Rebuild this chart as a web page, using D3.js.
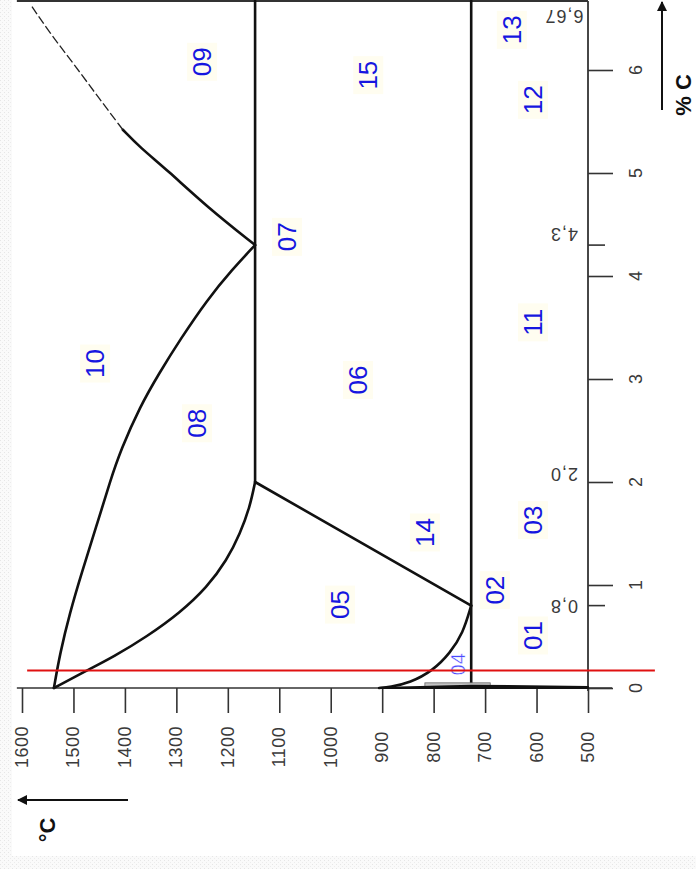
<!DOCTYPE html>
<html>
<head>
<meta charset="utf-8">
<script src="https://cdn.jsdelivr.net/npm/d3@7/dist/d3.min.js"></script>
<style>
  html, body { margin: 0; padding: 0; background: #fff; }
  svg { display: block; }
</style>
</head>
<body>
<svg id="chart" width="696" height="869"></svg>
<script>
// Iron–carbon equilibrium diagram, drawn turned a quarter turn:
// temperature runs right-to-left along the bottom, carbon content runs upward on the right.

// ---- axis ticks ----
const tempTicks = [1600, 1500, 1400, 1300, 1200, 1100, 1000, 900, 800, 700, 600, 500];
const carbonTicks = [0, 1, 2, 3, 4, 5, 6];
const keyCarbon = [0.8, 2.0, 4.3, 6.67];
const keyCarbonLabels = ["0,8", "2,0", "4,3", "6,67"];
const keyCarbonTicked = [0.8, 4.3];

// ---- phase boundaries as [%C, °C] ----
const liquidusAC = [[0, 1538], [0.34, 1526], [0.73, 1507], [1.12, 1484], [1.56, 1456], [2.02, 1428],
  [2.31, 1408], [2.73, 1371], [3.06, 1333], [3.38, 1293], [3.77, 1240], [4.06, 1192], [4.3, 1147]];
const solidusAE = [[0, 1538], [0.17, 1474], [0.30, 1423], [0.50, 1357], [0.73, 1293], [0.98, 1240],
  [1.24, 1202], [1.50, 1176], [1.76, 1157], [2.0, 1147]];
const liquidusCD = [[4.3, 1147], [4.67, 1240], [5.03, 1318], [5.25, 1371], [5.42, 1404]];
const liquidusCDext = [[5.42, 1404], [5.71, 1448], [6.07, 1501], [6.36, 1546], [6.64, 1584]];
const acmES = [[2.0, 1147], [0.8, 727]];
const a3GS = [[0, 906], [0.01, 885], [0.05, 846], [0.17, 801], [0.34, 768], [0.53, 743], [0.8, 727]];
const ferriteGPQ = [[0, 906], [0.022, 727], [0.008, 500], [0, 500]];
const eutectic = { t: 1147, from: 2.0, to: 6.67 };
const eutectoid = { t: 727, from: 0.022, to: 6.67 };
const carbonMax = 6.67;
const tempRange = [1610, 500];

// ---- field numbers ----
const fieldNames = ["09", "15", "13", "12", "07", "10", "08", "06", "11", "14", "03", "05", "02", "01"];
const fieldC = [6.08, 5.95, 6.39, 5.71, 4.38, 3.15, 2.57, 2.99, 3.55, 1.51, 1.63, 0.81, 0.95, 0.51];
const fieldT = [1250, 927, 648, 607, 1085, 1458, 1260, 947, 607, 817, 607, 982, 681, 607];
const smallFieldName = "04";
const smallFieldC = 0.23;
const smallFieldT = 753;

// ---- selected alloy ----
const selectedCarbon = 0.17;
const selectedSpan = [1590, 370];

const svg = d3.select("#chart");

// background stipple along the left and bottom edges
const defs = svg.append("defs");
const pat = defs.append("pattern").attr("id", "stipple")
  .attr("width", 4).attr("height", 4).attr("patternUnits", "userSpaceOnUse");
pat.append("rect").attr("width", 4).attr("height", 4).attr("fill", "#fafafa");
pat.append("rect").attr("x", 0).attr("y", 0).attr("width", 1).attr("height", 1).attr("fill", "#e6e6e6");
pat.append("rect").attr("x", 2).attr("y", 2).attr("width", 1).attr("height", 1).attr("fill", "#ececec");
svg.append("rect").attr("x", 0).attr("y", 0).attr("width", 12).attr("height", 869).attr("fill", "url(#stipple)");
svg.append("rect").attr("x", 0).attr("y", 856).attr("width", 696).attr("height", 13).attr("fill", "url(#stipple)");

const x = d3.scaleLinear().domain([1600, 500]).range([22, 588]);
const y = d3.scaleLinear().domain([0, 6]).range([688, 70]);

const line = d3.line().x(d => x(d[1])).y(d => y(d[0]));
const curve = d3.line().x(d => x(d[1])).y(d => y(d[0])).curve(d3.curveBasis);

const font = "'Liberation Sans', Arial, sans-serif";

// ---- temperature axis (bottom) ----
const xAxisG = svg.append("g").attr("transform", `translate(0,${y(0)})`);
xAxisG.call(d3.axisBottom(x).tickValues(tempTicks).tickSize(25).tickFormat(""));
xAxisG.select(".domain").remove();
xAxisG.selectAll(".tick line").attr("stroke", "#333").attr("stroke-width", 1.6);
svg.append("line")
  .attr("x1", x(tempRange[0])).attr("x2", 612)
  .attr("y1", y(0)).attr("y2", y(0))
  .attr("stroke", "#333").attr("stroke-width", 1.6);
svg.append("g").selectAll("text").data(tempTicks).join("text")
  .attr("transform", d => `translate(${x(d)},747) rotate(-90)`)
  .attr("text-anchor", "middle").attr("dominant-baseline", "central")
  .attr("font-family", font).attr("font-size", 18).attr("letter-spacing", 0.5)
  .attr("fill", "#3a3a3a")
  .text(d => d);

// ---- carbon axis (right) ----
const yAxisG = svg.append("g").attr("transform", `translate(${x(500)},0)`);
yAxisG.call(d3.axisRight(y).tickValues(carbonTicks).tickSize(25).tickFormat(""));
yAxisG.select(".domain").remove();
yAxisG.selectAll(".tick line").attr("stroke", "#333").attr("stroke-width", 1.6);
svg.append("g").selectAll("line").data(keyCarbonTicked).join("line")
  .attr("x1", x(500)).attr("x2", x(500) + 17)
  .attr("y1", d => y(d)).attr("y2", d => y(d))
  .attr("stroke", "#333").attr("stroke-width", 1.6);
svg.append("line")
  .attr("x1", x(500)).attr("x2", x(500))
  .attr("y1", y(carbonMax)).attr("y2", y(0) + 3)
  .attr("stroke", "#333").attr("stroke-width", 1.8);
svg.append("g").selectAll("text").data(carbonTicks).join("text")
  .attr("transform", d => `translate(636,${y(d)}) rotate(-90)`)
  .attr("text-anchor", "middle").attr("dominant-baseline", "central")
  .attr("font-family", font).attr("font-size", 18)
  .attr("fill", "#3a3a3a")
  .text(d => d);

// key compositions, written upside down next to the carbon axis
const keyShift = [0, -8, -11, 15];
svg.append("g").selectAll("text").data(keyCarbon).join("text")
  .attr("transform", (d, i) => `translate(${x(500) - 24},${y(d) + keyShift[i]}) rotate(180)`)
  .attr("text-anchor", "middle").attr("dominant-baseline", "central")
  .attr("font-family", font).attr("font-size", 18).attr("letter-spacing", 1)
  .attr("fill", "#3a3a3a")
  .text((d, i) => keyCarbonLabels[i]);

// top border at the cementite composition
svg.append("line")
  .attr("x1", x(tempRange[0])).attr("x2", x(500))
  .attr("y1", y(carbonMax)).attr("y2", y(carbonMax))
  .attr("stroke", "#333").attr("stroke-width", 1.8);

// ---- phase boundaries ----
const ink = "#111";
const phases = svg.append("g").attr("fill", "none").attr("stroke", ink)
  .attr("stroke-width", 2.6).attr("stroke-linejoin", "round").attr("stroke-linecap", "round");
phases.append("path").attr("d", curve(liquidusAC));
phases.append("path").attr("d", curve(solidusAE));
phases.append("path").attr("d", curve(liquidusCD));
phases.append("path").attr("d", line(acmES));
phases.append("path").attr("d", curve(a3GS));
phases.append("line")
  .attr("x1", x(eutectic.t)).attr("x2", x(eutectic.t))
  .attr("y1", y(eutectic.from)).attr("y2", y(eutectic.to));
phases.append("line")
  .attr("x1", x(eutectoid.t)).attr("x2", x(eutectoid.t))
  .attr("y1", y(eutectoid.from)).attr("y2", y(eutectoid.to));
svg.append("path").attr("d", curve(liquidusCDext))
  .attr("fill", "none").attr("stroke", "#222").attr("stroke-width", 1.3)
  .attr("stroke-dasharray", "9,3");

// ferrite sliver along the iron side
svg.append("rect")
  .attr("x", x(817)).attr("y", y(0.05))
  .attr("width", x(690) - x(817)).attr("height", y(0) - y(0.05))
  .attr("fill", "#c4c4c4").attr("stroke", "#666").attr("stroke-width", 0.8);
svg.append("path").attr("d", line(ferriteGPQ) + "Z")
  .attr("fill", ink).attr("stroke", ink).attr("stroke-width", 2.2).attr("stroke-linejoin", "round");

// ---- field numbers ----
const labels = svg.append("g");
labels.selectAll("g").data(fieldNames).join("g")
  .attr("transform", (d, i) => `translate(${x(fieldT[i])},${y(fieldC[i])}) rotate(-90)`)
  .each(function (d) {
    const g = d3.select(this);
    g.append("rect").attr("x", -19).attr("y", -15).attr("width", 38).attr("height", 30)
      .attr("fill", "#fffdf0");
    g.append("text")
      .attr("text-anchor", "middle").attr("dominant-baseline", "central")
      .attr("font-family", font).attr("font-size", 26)
      .attr("fill", "#1616e0")
      .text(d);
  });
svg.append("text")
  .attr("transform", `translate(${x(smallFieldT)},${y(smallFieldC)}) rotate(-90)`)
  .attr("text-anchor", "middle").attr("dominant-baseline", "central")
  .attr("font-family", font).attr("font-size", 20)
  .attr("fill", "#4a4aff").attr("stroke", "#fff").attr("stroke-width", 0.4)
  .text(smallFieldName);

// ---- selected alloy line ----
svg.append("line")
  .attr("x1", x(selectedSpan[0])).attr("x2", x(selectedSpan[1]))
  .attr("y1", y(selectedCarbon)).attr("y2", y(selectedCarbon))
  .attr("stroke", "#e01010").attr("stroke-width", 2);

// ---- axis captions with arrows ----
defs.append("marker").attr("id", "head").attr("viewBox", "0 0 10 10")
  .attr("refX", 9).attr("refY", 5).attr("markerWidth", 5).attr("markerHeight", 5)
  .attr("orient", "auto-start-reverse")
  .append("path").attr("d", "M0,0 L10,5 L0,10 Z").attr("fill", "#111");

svg.append("line")
  .attr("x1", 128).attr("x2", 18).attr("y1", 800).attr("y2", 800)
  .attr("stroke", "#111").attr("stroke-width", 2).attr("marker-end", "url(#head)");
svg.append("text")
  .attr("transform", "translate(47,830) rotate(-90)")
  .attr("text-anchor", "middle").attr("dominant-baseline", "central")
  .attr("font-family", font).attr("font-size", 22).attr("font-weight", "bold")
  .attr("fill", "#111")
  .text("°C");

svg.append("line")
  .attr("x1", 662).attr("x2", 662).attr("y1", 110).attr("y2", 2)
  .attr("stroke", "#111").attr("stroke-width", 2).attr("marker-end", "url(#head)");
svg.append("text")
  .attr("transform", "translate(683,95) rotate(-90)")
  .attr("text-anchor", "middle").attr("dominant-baseline", "central")
  .attr("font-family", font).attr("font-size", 22).attr("font-weight", "bold")
  .attr("fill", "#111")
  .text("% C");
</script>
</body>
</html>
